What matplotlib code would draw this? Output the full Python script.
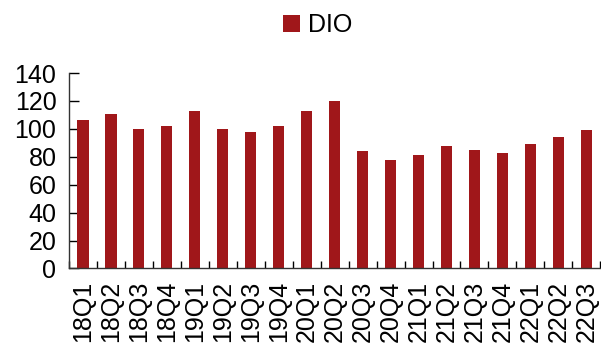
import matplotlib
matplotlib.use("Agg")
import matplotlib.pyplot as plt
import numpy as np

plt.rcParams['font.family'] = ['Liberation Sans', 'DejaVu Sans']

quarters = ["18Q1", "18Q2", "18Q3", "18Q4", "19Q1", "19Q2", "19Q3", "19Q4",
            "20Q1", "20Q2", "20Q3", "20Q4", "21Q1", "21Q2", "21Q3", "21Q4",
            "22Q1", "22Q2", "22Q3"]
dio = [106, 111, 100, 102, 113, 100, 98, 102, 113, 120, 84, 78,
       81, 88, 85, 83, 89, 94, 99]

bar_color = "#A0171A"

fig = plt.figure(figsize=(6.01, 3.46), dpi=100)
ax = fig.add_axes([0.1148, 0.224, 0.884, 0.565])

x = np.arange(len(quarters))
ax.bar(x, dio, width=0.4, color=bar_color, label="DIO", zorder=2)

ax.set_xlim(-0.5, len(quarters) - 0.5)
ax.set_ylim(0, 140)
ax.set_yticks(np.arange(0, 141, 20))

# ticks between categories, labels at centres
ax.set_xticks(np.arange(-0.5, len(quarters), 1.0))
ax.set_xticklabels([])
ax.set_xticks(x, minor=True)
ax.set_xticklabels(quarters, minor=True, rotation=90)
ax.tick_params(axis="x", which="minor", length=0, pad=9, labelsize=18)
ax.tick_params(axis="x", which="major", direction="in", length=5, width=1)
ax.tick_params(axis="y", direction="in", length=7, width=1, labelsize=18, pad=9)

for s in ["top", "right"]:
    ax.spines[s].set_visible(False)
for s in ["left", "bottom"]:
    ax.spines[s].set_color("#333333")
    ax.spines[s].set_linewidth(1)

ax.legend(loc="upper center", bbox_to_anchor=(0.468, 1.42), frameon=False,
          fontsize=18, handlelength=0.7, handleheight=0.7, handletextpad=0.3)

fig.savefig("out.png", dpi=100)
